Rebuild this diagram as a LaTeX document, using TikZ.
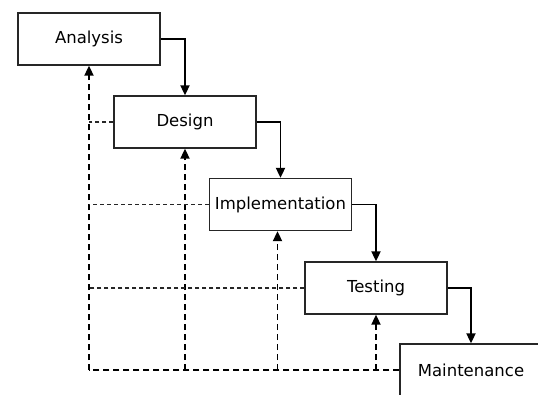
\documentclass[tikz,border=0pt]{standalone}
\usepackage{fontspec}
\setmainfont{DejaVu Sans}
\usetikzlibrary{arrows.meta,calc}
\begin{document}
\begin{tikzpicture}[x=1pt,y=-1pt,
  phase/.style={draw=black!85, line width=1.3pt, fill=white, minimum width=142pt, minimum height=52pt, inner sep=0pt, font=\fontsize{16.5}{19}\selectfont},
  flow/.style={line width=1.8pt, -{Triangle[length=10pt,width=9pt]}},
  back/.style={line width=1.8pt, dash pattern=on 6pt off 4pt, -{Triangle[length=10pt,width=9pt]}},
  feed/.style={line width=1.8pt, dash pattern=on 6pt off 4pt},
  thinfeed/.style={line width=1.3pt, dash pattern=on 4pt off 3pt, black!85}]
\useasboundingbox (0,0) rectangle (538,394);
\clip (0,0) rectangle (538,394);
\fill[white] (0,0) rectangle (538,394);
\node[phase] (analysis) at (89,39) {Analysis};
\node[phase] (design) at (185,122) {Design};
\node[phase] (impl) at (280.5,204.5) {Implementation};
\node[phase] (test) at (376,288) {Testing};
\node[phase] (maint) at (471,370) {Maintenance};
% forward flow
\draw[flow] (analysis.east) -| (design.north);
\draw[flow] (design.east) -| (impl.north);
\draw[flow] (impl.east) -| (test.north);
\draw[flow] (test.east) -| (maint.north);
% feedback
\coordinate (c0) at (analysis.south |- maint.west);
\draw[feed] (maint.west) -- (c0);
\draw[back] (c0) -- (analysis.south);
\draw[back] (design.south |- maint.west) -- (design.south);
\draw[back] ($(impl.south |- maint.west)+(-3,0)$) -- ($(impl.south)+(-3,0)$);
\draw[back] (test.south |- maint.west) -- (test.south);
\draw[thinfeed] (design.west) -- (design.west -| c0);
\draw[thinfeed] (impl.west) -- (impl.west -| c0);
\draw[thinfeed] (test.west) -- (test.west -| c0);
\end{tikzpicture}
\end{document}
